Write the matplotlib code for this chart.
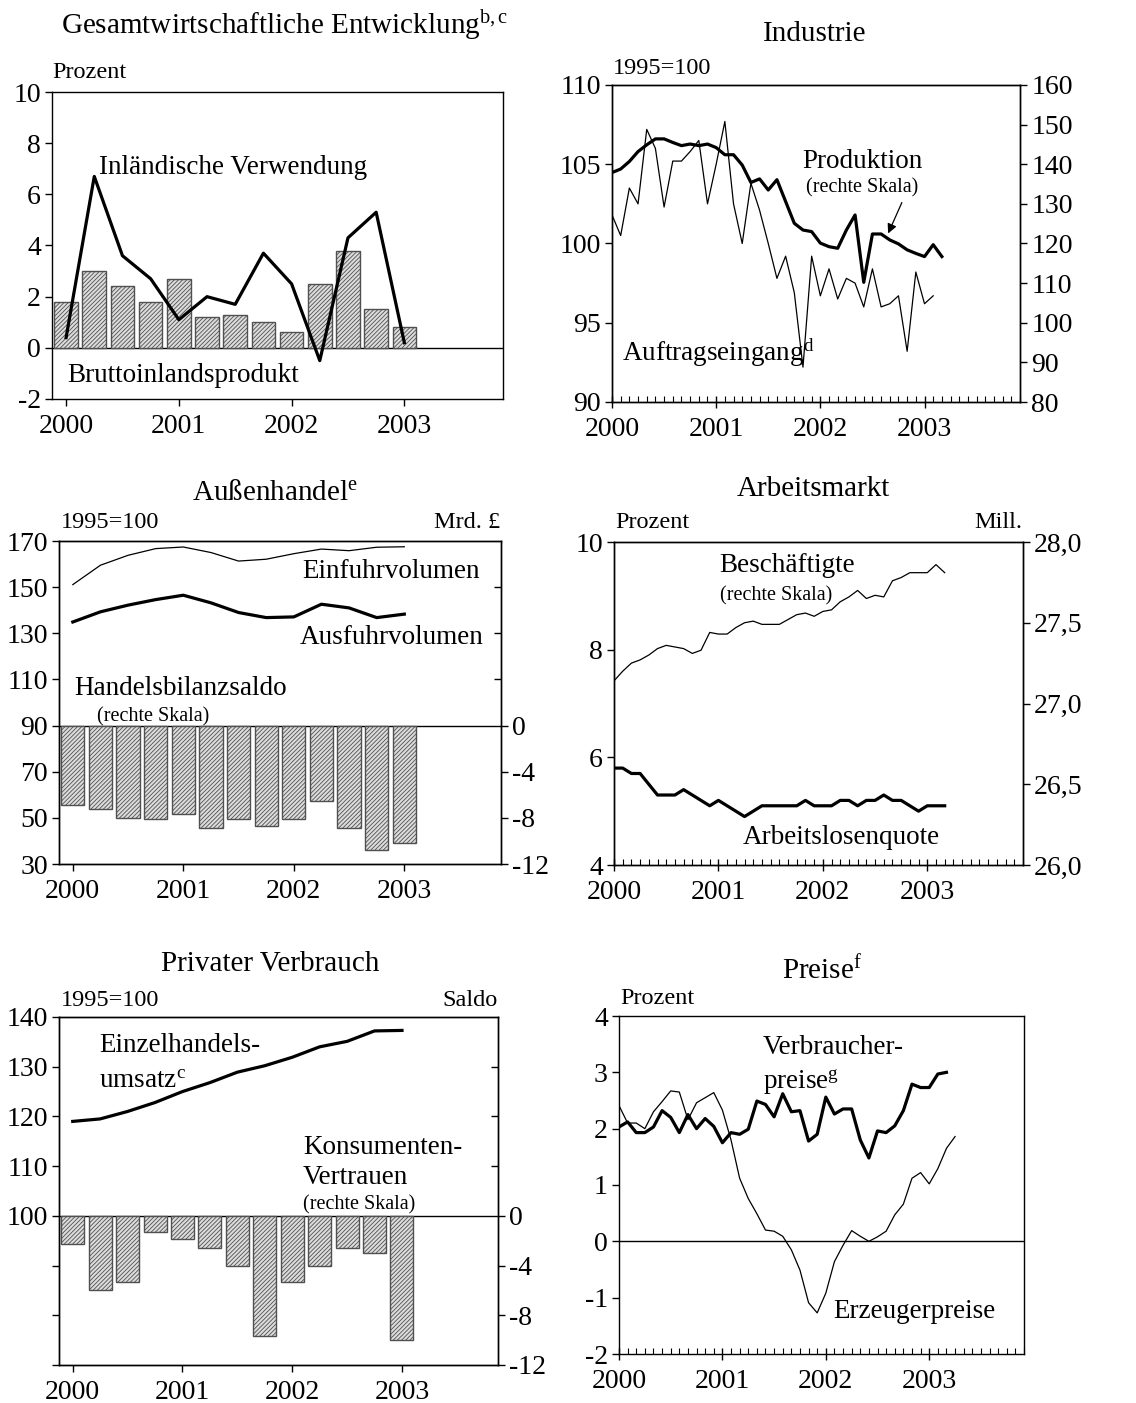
import matplotlib
matplotlib.use("Agg")
import matplotlib.pyplot as plt
import numpy as np
from matplotlib.ticker import FixedLocator, NullFormatter

plt.rcParams['font.family'] = ['Liberation Serif', 'DejaVu Serif']
plt.rcParams['mathtext.fontset'] = 'custom'
plt.rcParams['mathtext.rm'] = 'Liberation Serif'
plt.rcParams['mathtext.it'] = 'Liberation Serif'
plt.rcParams['hatch.linewidth'] = 0.6
plt.rcParams['axes.linewidth'] = 1.0
plt.rcParams['axes.unicode_minus'] = False

# ---------------- data ----------------
# Panel 1: Gesamtwirtschaftliche Entwicklung (quarterly, 2000Q1-2003Q1)
bip = [1.8, 3.0, 2.4, 1.8, 2.7, 1.2, 1.3, 1.0, 0.6, 2.5, 3.8, 1.5, 0.8]
inl_verw = [0.4, 6.7, 3.6, 2.7, 1.1, 2.0, 1.7, 3.7, 2.5, -0.5, 4.3, 5.3, 0.2]

# Panel 2: Industrie (monthly)
produktion = [137.9, 138.8, 140.7, 143.2, 144.9, 146.4, 146.4, 145.5, 144.7, 145.1, 144.7, 145.1,
              144.2, 142.4, 142.4, 139.8, 135.4, 136.3, 133.5, 136.1, 130.6, 125.1, 123.4, 123.0,
              120.1, 119.2, 118.8, 123.4, 127.2, 110.2, 122.4, 122.4, 120.9, 119.9, 118.4, 117.5,
              116.7, 119.7, 116.7]
auftrag = [101.8, 100.5, 103.5, 102.5, 107.2, 106.0, 102.3, 105.2, 105.2, 105.8, 106.5, 102.5,
           105.0, 107.7, 102.5, 100.0, 103.8, 102.1, 100.0, 97.8, 99.2, 96.9, 92.2, 99.2,
           96.7, 98.4, 96.5, 97.8, 97.5, 96.0, 98.4, 96.0, 96.2, 96.7, 93.2, 98.2,
           96.2, 96.7]

# Panel 3: Aussenhandel (quarterly)
einfuhr = [151.1, 159.5, 163.8, 166.7, 167.4, 165.0, 161.3, 162.1, 164.5, 166.5, 165.8, 167.3, 167.5]
ausfuhr = [134.9, 139.3, 142.2, 144.6, 146.5, 143.2, 139.0, 136.8, 137.1, 142.6, 141.0, 136.8, 138.3]
handelsbilanz = [-6.9, -7.2, -8.0, -8.1, -7.7, -8.9, -8.1, -8.7, -8.1, -6.5, -8.9, -10.8, -10.2]

# Panel 4: Arbeitsmarkt (monthly)
beschaeftigte = [27.14, 27.20, 27.25, 27.27, 27.30, 27.34, 27.36, 27.35, 27.34, 27.31, 27.33, 27.44,
                 27.43, 27.43, 27.47, 27.50, 27.51, 27.49, 27.49, 27.49, 27.52, 27.55, 27.56, 27.54,
                 27.57, 27.58, 27.63, 27.66, 27.70, 27.65, 27.67, 27.66, 27.76, 27.78, 27.81, 27.81,
                 27.81, 27.86, 27.81]
alq = [5.8, 5.8, 5.7, 5.7, 5.5, 5.3, 5.3, 5.3, 5.4, 5.3, 5.2, 5.1,
       5.2, 5.1, 5.0, 4.9, 5.0, 5.1, 5.1, 5.1, 5.1, 5.1, 5.2, 5.1,
       5.1, 5.1, 5.2, 5.2, 5.1, 5.2, 5.2, 5.3, 5.2, 5.2, 5.1, 5.0,
       5.1, 5.1, 5.1]

# Panel 5: Privater Verbrauch (quarterly)
einzelhandel = [119.0, 119.5, 121.0, 122.8, 125.0, 126.8, 128.9, 130.2, 131.9, 134.0, 135.1, 137.2, 137.3]
konsumvertrauen = [-2.3, -6.0, -5.3, -1.3, -1.9, -2.6, -4.0, -9.7, -5.3, -4.0, -2.6, -3.0, -10.0]

# Panel 6: Preise (monthly)
verbraucherpreise = [2.03, 2.12, 1.93, 1.93, 2.03, 2.32, 2.20, 1.93, 2.25, 2.00, 2.18, 2.04,
                     1.75, 1.93, 1.90, 1.99, 2.49, 2.43, 2.21, 2.62, 2.30, 2.32, 1.78, 1.90,
                     2.56, 2.26, 2.35, 2.35, 1.80, 1.48, 1.96, 1.93, 2.05, 2.32, 2.79, 2.73,
                     2.73, 2.97, 3.00]
erzeugerpreise = [2.41, 2.10, 2.10, 2.00, 2.30, 2.48, 2.67, 2.65, 2.16, 2.46, 2.55, 2.64,
                  2.33, 1.80, 1.12, 0.76, 0.49, 0.20, 0.18, 0.09, -0.15, -0.51, -1.09, -1.27,
                  -0.92, -0.36, -0.07, 0.19, 0.09, 0.00, 0.08, 0.18, 0.47, 0.66, 1.12, 1.22,
                  1.02, 1.29, 1.65, 1.86]

year_ticks = [2000, 2001, 2002, 2003]
year_labels = ['2000', '2001', '2002', '2003']

# ---------------- figure ----------------
W, H = 1136, 1403
fig = plt.figure(figsize=(W / 100, H / 100), dpi=100)

FS_TICK = 20
FS_LAB = 19.5
FS_SMALL = 14.5
FS_UNIT = 17.5
FS_TITLE = 21
THICK = 2.3
THIN = 0.9
BARKW = dict(facecolor='#dcdcdc', edgecolor='#505050', hatch='////////', linewidth=1.0)


def add_ax(l, t, r, b):
    return fig.add_axes([l / W, 1 - b / H, (r - l) / W, (b - t) / H])


def T(x, y, s, size=FS_LAB, ha='left', va='center', **kw):
    fig.text(x / W, 1 - y / H, s, fontsize=size, ha=ha, va=va, **kw)


def style(ax, monthly=False):
    ax.set_xticks(year_ticks)
    ax.set_xticklabels(year_labels)
    ax.tick_params(axis='both', labelsize=FS_TICK, direction='out', length=5, width=1, pad=3)
    ax.tick_params(axis='x', pad=6)
    if monthly:
        ax.set_xlim(2000, 2000 + 47 / 12)
        ax.xaxis.set_minor_locator(FixedLocator([2000 + i / 12 for i in range(48)]))
        ax.tick_params(axis='x', which='minor', direction='in', length=4, width=0.8)
        ax.tick_params(axis='x', which='major', direction='inout', length=8, pad=7)
    else:
        ax.set_xlim(1999.875, 2003.875)
    for s in ax.spines.values():
        s.set_linewidth(1.0)


q = [2000 + 0.25 * i for i in range(13)]
BW = 0.21

# ---- Panel 1 ----
ax1 = add_ax(52, 92, 503, 399)
ax1.bar(q, bip, width=BW, zorder=2, **BARKW)
ax1.plot(q, inl_verw, color='black', lw=THICK, zorder=3)
ax1.axhline(0, color='black', lw=1.0, zorder=1)
ax1.set_ylim(-2, 10)
ax1.set_yticks(range(-2, 11, 2))
style(ax1)
T(61, 25, r'Gesamtwirtschaftliche Entwicklung$^{\mathrm{b,c}}$', FS_TITLE)
T(52, 73, 'Prozent', FS_UNIT)
T(99, 168, 'Inländische Verwendung', FS_LAB)
T(67, 376, 'Bruttoinlandsprodukt', FS_LAB)

# ---- Panel 2 ----
ax2 = add_ax(612, 85, 1020, 402)
m38 = [2000 + i / 12 for i in range(len(auftrag))]
ax2.plot(m38, auftrag, color='black', lw=THIN)
ax2.set_ylim(90, 110)
ax2.set_yticks([90, 95, 100, 105, 110])
style(ax2, monthly=True)
ax2r = ax2.twinx()
m39 = [2000 + i / 12 for i in range(len(produktion))]
ax2r.plot(m39, produktion, color='black', lw=THICK)
ax2r.set_ylim(80, 160)
ax2r.set_yticks(range(80, 161, 10))
ax2r.tick_params(axis='y', labelsize=FS_TICK, direction='out', length=5, width=1, pad=3)
T(815, 34, 'Industrie', FS_TITLE, ha='center')
T(613, 68, '1995=100', FS_UNIT)
T(862, 162, 'Produktion', FS_LAB, ha='center')
T(862, 188, '(rechte Skala)', FS_SMALL, ha='center')
T(622, 353, r'Auftragseingang$^{\mathrm{d}}$', FS_LAB)
fig.patches.append(matplotlib.patches.FancyArrowPatch(
    (903 / W, 1 - 200 / H), (887 / W, 1 - 236 / H), transform=fig.transFigure,
    arrowstyle='-|>', mutation_scale=14, color='black', lw=0.9))

# ---- Panel 3 ----
ax3 = add_ax(59, 541, 501, 864)
ax3.plot(q, einfuhr, color='black', lw=THIN)
ax3.plot(q, ausfuhr, color='black', lw=THICK)
ax3.axhline(90, color='black', lw=1.0)
ax3.set_ylim(30, 170)
ax3.set_yticks([30, 50, 70, 90, 110, 130, 150, 170])
style(ax3)
ax3r = ax3.twinx()
ax3r.bar(q, handelsbilanz, width=BW, **BARKW)
ax3r.set_ylim(-12, 16)
ax3r.set_yticks([-12, -8, -4, 0])
ax3r.yaxis.set_minor_locator(FixedLocator([4, 8, 12]))
ax3r.yaxis.set_minor_formatter(NullFormatter())
ax3r.tick_params(axis='y', labelsize=FS_TICK, direction='out', length=5, width=1, pad=3)
ax3r.tick_params(axis='y', which='minor', direction='in', length=5, width=1)
T(275, 493, r'Außenhandel$^{\mathrm{e}}$', FS_TITLE, ha='center')
T(61, 523, '1995=100', FS_UNIT)
T(500, 523, 'Mrd. £', FS_UNIT, ha='right')
T(391, 572, 'Einfuhrvolumen', FS_LAB, ha='center')
T(392, 637, 'Ausfuhrvolumen', FS_LAB, ha='center')
T(181, 688, 'Handelsbilanzsaldo', FS_LAB, ha='center')
T(153, 717, '(rechte Skala)', FS_SMALL, ha='center')

# ---- Panel 4 ----
ax4 = add_ax(614, 542, 1023, 865)
m = [2000 + i / 12 for i in range(len(alq))]
ax4.plot(m, alq, color='black', lw=THICK)
ax4.set_ylim(4, 10)
ax4.set_yticks([4, 6, 8, 10])
style(ax4, monthly=True)
ax4r = ax4.twinx()
ax4r.plot(m, beschaeftigte, color='black', lw=THIN)
ax4r.set_ylim(26, 28)
ax4r.set_yticks([26.0, 26.5, 27.0, 27.5, 28.0])
ax4r.set_yticklabels(['26,0', '26,5', '27,0', '27,5', '28,0'])
ax4r.tick_params(axis='y', labelsize=FS_TICK, direction='out', length=5, width=1, pad=3)
T(813, 489, 'Arbeitsmarkt', FS_TITLE, ha='center')
T(615, 523, 'Prozent', FS_UNIT)
T(1022, 523, 'Mill.', FS_UNIT, ha='right')
T(787, 565, 'Beschäftigte', FS_LAB, ha='center')
T(776, 596, '(rechte Skala)', FS_SMALL, ha='center')
T(841, 838, 'Arbeitslosenquote', FS_LAB, ha='center')

# ---- Panel 5 ----
ax5 = add_ax(59, 1017, 498, 1365)
ax5.plot(q, einzelhandel, color='black', lw=THICK)
ax5.axhline(100, color='black', lw=1.0)
ax5.set_ylim(70, 140)
ax5.set_yticks([70, 80, 90, 100, 110, 120, 130, 140])
ax5.set_yticklabels(['', '', '', '100', '110', '120', '130', '140'])
style(ax5)
ax5r = ax5.twinx()
ax5r.bar(q, konsumvertrauen, width=BW, **BARKW)
ax5r.set_ylim(-12, 16)
ax5r.set_yticks([-12, -8, -4, 0])
ax5r.yaxis.set_minor_locator(FixedLocator([4, 8, 12]))
ax5r.yaxis.set_minor_formatter(NullFormatter())
ax5r.tick_params(axis='y', labelsize=FS_TICK, direction='out', length=5, width=1, pad=3)
ax5r.tick_params(axis='y', which='minor', direction='in', length=5, width=1)
T(270, 964, 'Privater Verbrauch', FS_TITLE, ha='center')
T(61, 1000, '1995=100', FS_UNIT)
T(498, 1000, 'Saldo', FS_UNIT, ha='right')
T(99, 1045, 'Einzelhandels-', FS_LAB)
T(99, 1082, r'umsatz$^{\mathrm{c}}$', FS_LAB)
T(303, 1148, 'Konsumenten-', FS_LAB)
T(303, 1178, 'Vertrauen', FS_LAB)
T(303, 1205, '(rechte Skala)', FS_SMALL)

# ---- Panel 6 ----
ax6 = add_ax(619, 1016, 1024, 1354)
mv = [2000 + i / 12 for i in range(len(verbraucherpreise))]
me = [2000 + i / 12 for i in range(len(erzeugerpreise))]
ax6.plot(me, erzeugerpreise, color='black', lw=THIN)
ax6.plot(mv, verbraucherpreise, color='black', lw=THICK)
ax6.axhline(0, color='black', lw=1.0)
ax6.set_ylim(-2, 4)
ax6.set_yticks(range(-2, 5))
style(ax6, monthly=True)
T(822, 970, r'Preise$^{\mathrm{f}}$', FS_TITLE, ha='center')
T(620, 998, 'Prozent', FS_UNIT)
T(763, 1048, 'Verbraucher-', FS_LAB)
T(763, 1082, r'preise$^{\mathrm{g}}$', FS_LAB)
T(833, 1311, 'Erzeugerpreise', FS_LAB)

fig.savefig('out.png', dpi=100)
